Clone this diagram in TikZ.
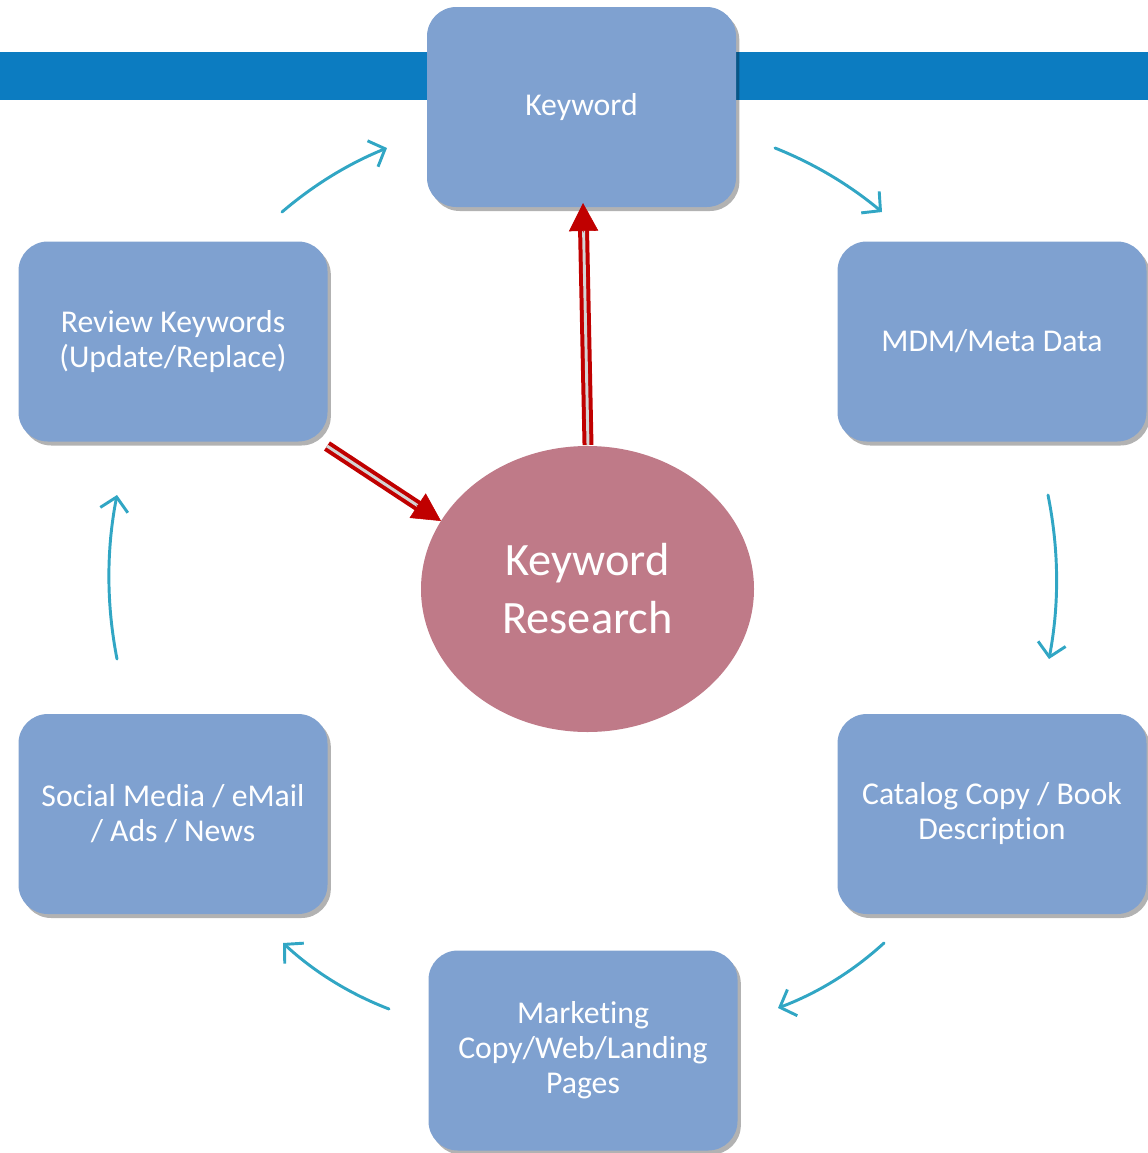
\documentclass[tikz,border=0pt]{standalone}
\usepackage{fontspec}
\setmainfont[Ligatures=NoCommon]{Carlito}
\usetikzlibrary{arrows.meta,shapes.geometric,shadows,calc}

\definecolor{boxblue}{HTML}{7FA1D0}
\definecolor{barblue}{HTML}{0C7CC1}
\definecolor{roseell}{HTML}{BF7A88}
\definecolor{flowteal}{HTML}{31A6C4}
\definecolor{deepred}{HTML}{C00000}
\definecolor{stripe}{HTML}{D4D4D4}

\tikzset{
  stagebox/.style={rectangle, rounded corners=22pt, fill=boxblue,
    minimum width=231.75pt, minimum height=150pt, inner sep=0pt,
    align=center, text=white, font=\fontsize{23.8}{26.25}\selectfont,
    drop shadow={shadow xshift=2.5pt, shadow yshift=-3pt, opacity=0.3, fill=black}},
  hub/.style={ellipse, fill=roseell, minimum width=249.75pt, minimum height=214.5pt,
    inner sep=0pt, align=center, text=white, font=\fontsize{34.8}{43.5}\selectfont},
  flow/.style={draw=flowteal, line width=2.2pt, line cap=round,
    -{Straight Barb[length=10pt, width=21pt, line width=2.2pt]}},
  redshaft/.style={draw=deepred, line width=3pt, double=stripe, double distance=2.2pt},
  redtip/.style={draw=deepred, fill=deepred, line width=0.4pt,
    -{Triangle[length=21pt, width=22pt]}}
}

\begin{document}
\begin{tikzpicture}[x=0.75pt, y=-0.75pt]
\useasboundingbox (0,0) rectangle (1148,1153);

% header band behind the top stage
\fill[barblue] (0,52) rectangle (1148,100);

% stages of the cycle
\node[stagebox] (kw)   at (581.5,107)   {Keyword};
\node[stagebox] (mdm)  at (992,341.5)   {MDM/Meta Data};
\node[stagebox] (rev)  at (173,341.5)   {Review Keywords\\(Update/Replace)};
\node[stagebox] (soc)  at (173,814)     {Social Media / eMail\\/ Ads / News};
\node[stagebox] (cat)  at (992,814)     {Catalog Copy / Book\\Description};
\node[stagebox] (mkt)  at (583,1050.5)  {Marketing\\Copy/Web/Landing\\Pages};

% central research step
\node[hub] (res) at (587.5,589) {Keyword\\Research};

% end points of the cycle arrows
\coordinate (a1s) at (282,212);  \coordinate (a1e) at (387,148);
\coordinate (a2s) at (775,148);  \coordinate (a2e) at (882,212);
\coordinate (a3s) at (1048,495); \coordinate (a3e) at (1049,659);
\coordinate (a4s) at (884,943);  \coordinate (a4e) at (778,1008);
\coordinate (a5s) at (389,1009); \coordinate (a5e) at (283,943);
\coordinate (a6s) at (117,659);  \coordinate (a6e) at (117,495);

\draw[flow] (a1s) .. controls (313.5,185) and (348.5,163.6) .. (a1e);
\draw[flow] (a2s) .. controls (814.1,163.6) and (849.7,185) .. (a2e);
\draw[flow] (a3s) .. controls (1059,550) and (1059.4,604) .. (a3e);
\draw[flow] (a4s) .. controls (852.9,971.5) and (817.5,993.1) .. (a4e);
\draw[flow] (a5s) .. controls (349.5,993.8) and (314.1,971.8) .. (a5e);
\draw[flow] (a6s) .. controls (106.3,604.3) and (106.3,549.7) .. (a6e);

% double red arrows into and out of the research step
\coordinate (r1s) at (588,445);  \coordinate (r1e) at (583,203);
\coordinate (r2s) at (327,446);  \coordinate (r2e) at (441,521);

\draw[redshaft, shorten >=20pt] (r1s) -- (r1e);
\draw[redtip] ($(r1e)!22pt!(r1s)$) -- (r1e);
\draw[redshaft, shorten >=20pt] (r2s) -- (r2e);
\draw[redtip] ($(r2e)!22pt!(r2s)$) -- (r2e);
\end{tikzpicture}
\end{document}
